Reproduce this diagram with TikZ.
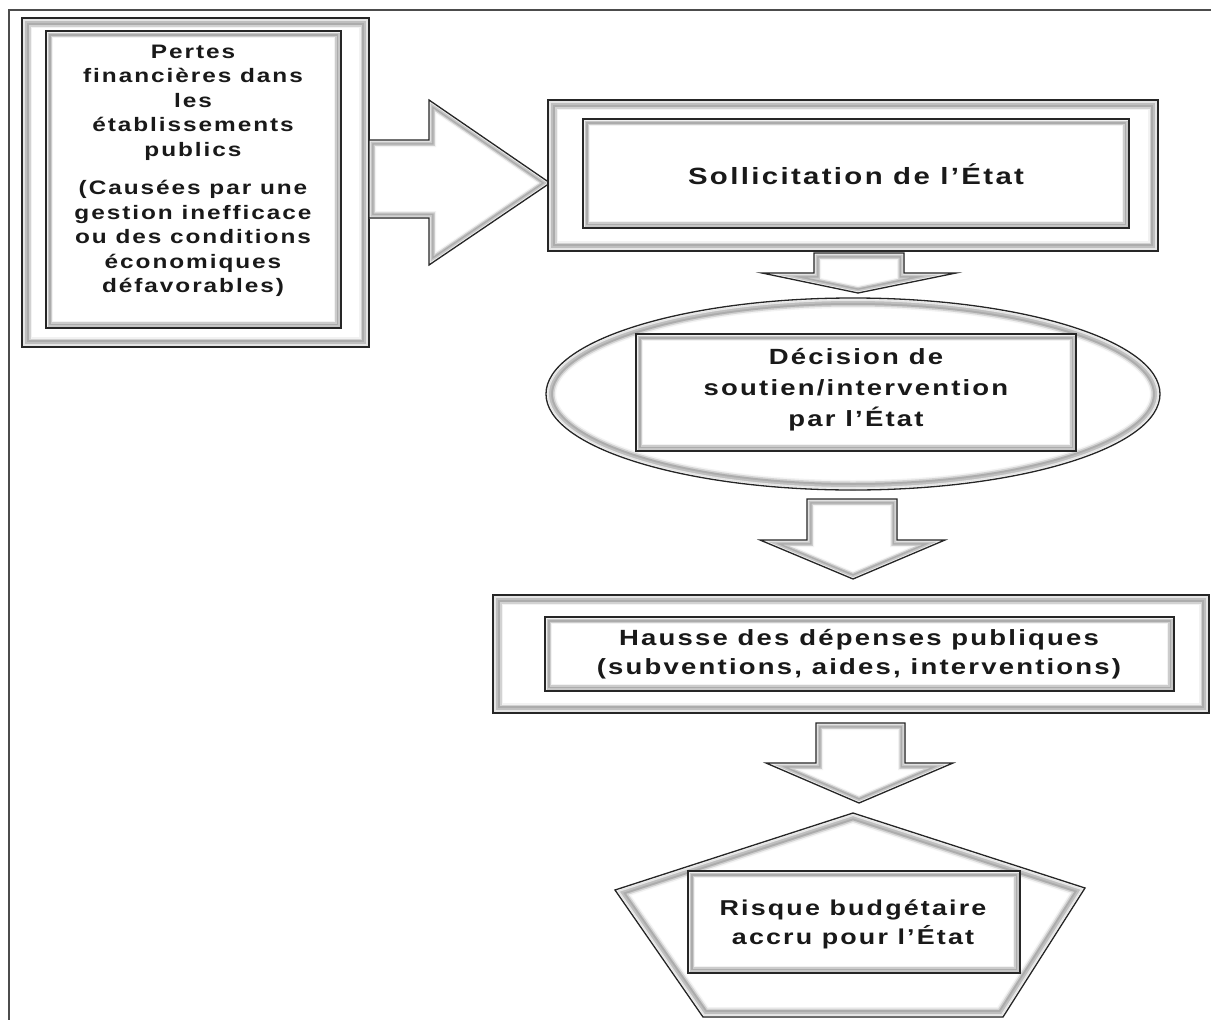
\documentclass[tikz,border=0pt]{standalone}
\usepackage{fontspec}
\setmainfont{Liberation Sans}[FakeStretch=1.25, LetterSpace=10]
\newcommand\bevelbig[1]{%
 \begin{scope}
 \clip #1;
 \fill[white] #1;
 \draw[line width=20pt, gray!10] #1;
 \draw[line width=17pt, gray!35] #1;
 \draw[line width=14pt, gray!65] #1;
 \draw[line width=10pt, gray!50] #1;
 \draw[line width=6pt, gray!20] #1;
 \draw[line width=2.5pt, gray!5] #1;
 \end{scope}
 \draw[line width=1.3pt, black!85] #1;
}
\newcommand\bevelsmall[1]{%
 \begin{scope}
 \clip #1;
 \fill[white] #1;
 \draw[line width=14pt, gray!10] #1;
 \draw[line width=11.5pt, gray!40] #1;
 \draw[line width=9pt, gray!65] #1;
 \draw[line width=6pt, gray!45] #1;
 \draw[line width=3pt, gray!12] #1;
 \end{scope}
 \draw[line width=1.3pt, black!85] #1;
}
\tikzset{
 txt/.style={align=center, inner sep=0pt, text=black!90},
}
\begin{document}
\begin{tikzpicture}[x=1pt,y=-1pt]
\useasboundingbox (0,0) rectangle (1211,1020);
\fill[white] (0,0) rectangle (1211,1020);
% frame
\draw[line width=1.3pt, black!70] (9,1025) -- (9,10) -- (1215,10);

% box 1
\bevelbig{(22,18) rectangle (369,347)}
\bevelsmall{(46,31) rectangle (341,328)}
% right arrow
\bevelsmall{(369,140) -- (429,140) -- (429,100) -- (550,183) -- (429,265) -- (429,218) -- (369,218) -- cycle}

% box 2
\bevelbig{(548,100) rectangle (1158,251)}
\bevelsmall{(583,119) rectangle (1129,228)}

% down arrow 1
\bevelsmall{(814,253) -- (904,253) -- (904,273) -- (956,273) -- (858,293) -- (762,273) -- (814,273) -- cycle}

% ellipse
\bevelbig{(853,394) ellipse [x radius=307pt, y radius=96pt]}
\bevelsmall{(636,334) rectangle (1076,451)}

% down arrow 2
\bevelsmall{(807,499) -- (897,499) -- (897,540) -- (945,540) -- (853,579) -- (760,540) -- (807,540) -- cycle}

% box 3
\bevelbig{(493,595) rectangle (1209,713)}
\bevelsmall{(545,617) rectangle (1174,691)}

% down arrow 3
\bevelsmall{(816,723) -- (905,723) -- (905,763) -- (953,763) -- (859,803) -- (766,763) -- (816,763) -- cycle}

% pentagon
\bevelbig{(853,813) -- (1085,888) -- (1003,1017) -- (703,1017) -- (615,890) -- cycle}
\bevelsmall{(688,871) rectangle (1020,973)}

% texts
\node[txt, font=\fontsize{19.5}{24.5}\selectfont\bfseries] (n1) at (193,171)
 {Pertes\\financières dans\\les\\établissements\\publics\\[14pt](Causées par une\\gestion inefficace\\ou des conditions\\économiques\\défavorables)};
\node[txt, font=\fontsize{23.5}{28}\selectfont\bfseries] (n2) at (856,174) {Sollicitation de l’État};
\node[txt, font=\fontsize{22}{31}\selectfont\bfseries] (n3) at (856,390) {Décision de\\soutien/intervention\\par l’État};
\node[txt, font=\fontsize{22}{29}\selectfont\bfseries] (n4) at (859,654) {Hausse des dépenses publiques\\(subventions, aides, interventions)};
\node[txt, font=\fontsize{21.5}{29}\selectfont\bfseries] (n5) at (853,924) {Risque budgétaire\\accru pour l’État};
\end{tikzpicture}
\end{document}
